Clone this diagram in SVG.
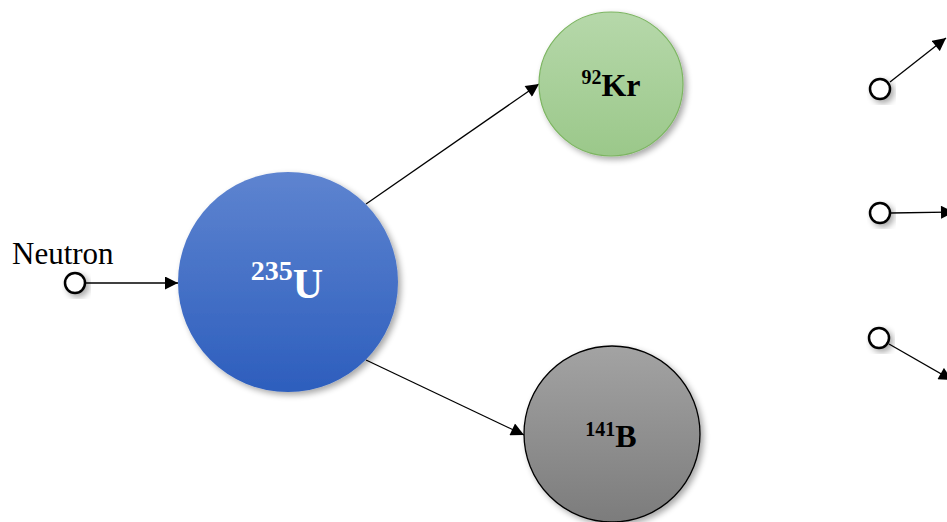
<svg xmlns="http://www.w3.org/2000/svg" width="947" height="522" viewBox="0 0 947 522">
<style>
.lbl{font-family:"Liberation Serif","Times New Roman",serif;font-weight:bold;}
.ser{font-family:"Liberation Serif","Times New Roman",serif;}
.conn line{stroke:#000;stroke-width:1.3;fill:none;marker-end:url(#arr);}
.nc{fill:#fff;stroke:#000;stroke-width:2.5;filter:url(#sh);}
</style>
<defs>
<marker id="arr" viewBox="0 0 10 10" refX="10" refY="5" markerWidth="14" markerHeight="13" markerUnits="userSpaceOnUse" orient="auto"><path d="M0,0L10,5L0,10z" fill="#000"/></marker>
<linearGradient id="gU" x1="0" y1="0" x2="0" y2="1"><stop offset="0" stop-color="#5e84d0"/><stop offset="1" stop-color="#2d5ebd"/></linearGradient>
<linearGradient id="gK" x1="0" y1="0" x2="0" y2="1"><stop offset="0" stop-color="#b6d8aa"/><stop offset="1" stop-color="#9bc88a"/></linearGradient>
<linearGradient id="gB" x1="0" y1="0" x2="0" y2="1"><stop offset="0" stop-color="#a3a3a3"/><stop offset="1" stop-color="#7c7c7c"/></linearGradient>
<filter id="sh" x="-30%" y="-30%" width="160%" height="160%"><feGaussianBlur in="SourceAlpha" stdDeviation="3"/><feOffset dx="3" dy="3"/><feComponentTransfer><feFuncA type="linear" slope="0.35"/></feComponentTransfer><feMerge><feMergeNode/><feMergeNode in="SourceGraphic"/></feMerge></filter>
</defs>
<rect width="947" height="522" fill="#fff"/>
<g class="conn" id="connectors">
<line x1="85" y1="283" x2="178" y2="283"/>
<line x1="366" y1="204" x2="539" y2="84"/>
<line x1="366" y1="360" x2="524" y2="435"/>
<line x1="890" y1="82" x2="946" y2="38"/>
<line x1="891" y1="213" x2="954" y2="212"/>
<line x1="889" y1="344" x2="952" y2="380"/>
</g>
<g id="neutron">
<text class="ser" x="12" y="264" font-size="31">Neutron</text>
<circle class="nc" cx="75" cy="283" r="10"/>
</g>
<g id="U235">
<circle cx="288" cy="282" r="110" fill="url(#gU)" filter="url(#sh)"/>
<text class="lbl" fill="#fff" x="287" y="298" text-anchor="middle"><tspan font-size="28" dy="-18">235</tspan><tspan font-size="42" dy="18">U</tspan></text>
</g>
<g id="Kr92">
<circle cx="611" cy="84" r="72" fill="url(#gK)" stroke="#7cb561" stroke-width="1.2" filter="url(#sh)"/>
<text class="lbl" fill="#000" x="611" y="96" text-anchor="middle"><tspan font-size="20" dy="-12">92</tspan><tspan font-size="32" dy="12">Kr</tspan></text>
</g>
<g id="B141">
<circle cx="612" cy="434" r="88" fill="url(#gB)" stroke="#000" stroke-width="1.3" filter="url(#sh)"/>
<text class="lbl" fill="#000" x="611" y="447" text-anchor="middle"><tspan font-size="20" dy="-11">141</tspan><tspan font-size="32" dy="11">B</tspan></text>
</g>
<g id="n1"><circle class="nc" cx="880" cy="89" r="10"/></g>
<g id="n2"><circle class="nc" cx="880" cy="213" r="10"/></g>
<g id="n3"><circle class="nc" cx="879" cy="338" r="10"/></g>
</svg>
